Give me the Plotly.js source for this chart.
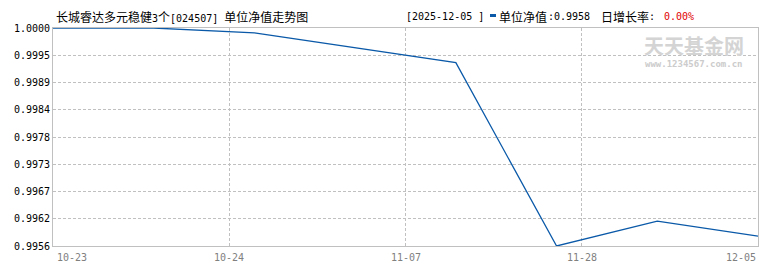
<!DOCTYPE html>
<html>
<head>
<meta charset="utf-8">
<script src="https://cdn.plot.ly/plotly-3.0.1.min.js"></script>
<style>html,body{margin:0;padding:0;background:#fff;}#chart{width:770px;height:270px;}</style>
</head>
<body>
<div id="chart"></div>
<script>
// ---- data ----
const dates = ['10-23','10-24','10-31','11-07','11-14','11-21','11-28','12-05'];
const nav = [1.0000, 1.0000, 0.9999, 0.9996, 0.9993, 0.9956, 0.9961, 0.9958];
const xTickLabels = ['10-23','10-24','11-07','11-28','12-05'];
const yTickLabels = ['0.9956','0.9962','0.9967','0.9973','0.9978','0.9984','0.9989','0.9995','1.0000'];
const yMin = 0.9956, yMax = 1.0000;
const fundName = '长城睿达多元稳健';
const fundShare = '3';
const fundUnit = '个';
const fundCode = '024507';
const titleTail = '单位净值走势图';
const lastDate = '2025-12-05';
const lastNav = '0.9958';
const dayGrowth = '0.00%';

// ---- layout helpers ----
const L = 53, R = 758, T = 28, B = 246;
const px = x => (x - L) / (R - L);
const py = y => (B - y) / (B - T);
const MONO = 'DejaVu Sans Mono, monospace';
const CJK = '"Noto Sans CJK SC", sans-serif';
const lineColor = '#0a59a8';
const sm = s => '<span style="font-family:DejaVu Sans Mono;font-size:10px">' + s + '</span>';

const xIdx = dates.map((d, i) => i);
const n = dates.length - 1;
const xTickVals = xTickLabels.map((t, i) => i * n / (xTickLabels.length - 1));
const yTickVals = yTickLabels.map((t, i) => yMin + i * (yMax - yMin) / (yTickLabels.length - 1));

const annotations = [];
xTickLabels.forEach((t, i) => {
  annotations.push({
    x: xTickVals[i], y: 0, xref: 'x', yref: 'paper',
    text: t, showarrow: false,
    xanchor: i === 0 ? 'left' : (i === xTickLabels.length - 1 ? 'right' : 'center'),
    yanchor: 'top', yshift: -4, xshift: i === 0 ? 2 : 0,
    font: {family: MONO, size: 10, color: '#808080'}
  });
});
const hdr = (x, text, color, family, size) => ({
  x: px(x), y: py(16), xref: 'paper', yref: 'paper', text: text, showarrow: false,
  xanchor: 'left', yanchor: 'middle', font: {family: family || CJK, size: size || 12, color: color || '#000'}
});
annotations.push(
  hdr(54, fundName + sm(fundShare) + fundUnit + sm('[' + fundCode + '] ') + titleTail),
  hdr(404, '[' + lastDate + ' ]', '#000', MONO, 10),
  hdr(497, '单位净值', '#000'),
  hdr(546, ':' + lastNav, '#000', MONO, 10),
  hdr(599, '日增长率', '#000'),
  hdr(647, ':', '#000', MONO, 10),
  hdr(662, dayGrowth, '#e00000', MONO, 10),
  {x: px(694), y: py(45), xref: 'paper', yref: 'paper', text: '<b>天天基金网</b>', showarrow: false,
   xanchor: 'center', yanchor: 'middle', font: {family: CJK, size: 20, color: '#d4d4d4'}},
  {x: px(694), y: py(64), xref: 'paper', yref: 'paper', text: '<b>www.1234567.com.cn</b>', showarrow: false,
   xanchor: 'center', yanchor: 'middle', font: {family: MONO, size: 9, color: '#cccccc'}}
);

const trace = {
  x: xIdx, y: nav, text: dates, type: 'scatter', mode: 'lines',
  line: {color: lineColor, width: 1.3}, hoverinfo: 'text+y'
};

const layout = {
  width: 770, height: 270,
  margin: {l: L, r: 770 - R, t: T, b: 270 - B},
  paper_bgcolor: '#fff', plot_bgcolor: '#fff',
  showlegend: false,
  xaxis: {
    range: [0, n], tickvals: xTickVals, showticklabels: false,
    showgrid: true, gridcolor: '#c0c0c0', griddash: '3px,2px', gridwidth: 1,
    zeroline: false, showline: true, mirror: true, linecolor: '#c0c0c0', linewidth: 1,
    ticks: '', fixedrange: true
  },
  yaxis: {
    range: [yMin, yMax], tickvals: yTickVals, ticktext: yTickLabels,
    showgrid: true, gridcolor: '#c0c0c0', griddash: '3px,2px', gridwidth: 1,
    zeroline: false, showline: true, mirror: true, linecolor: '#c0c0c0', linewidth: 1,
    ticks: '', ticklen: 0,
    tickfont: {family: MONO, size: 10, color: '#000'}, fixedrange: true
  },
  shapes: [
    {type: 'rect', xref: 'paper', yref: 'paper', x0: px(490), x1: px(496), y0: py(17), y1: py(14),
     fillcolor: lineColor, line: {width: 0}}
  ],
  annotations: annotations
};

Plotly.newPlot('chart', [trace], layout, {displayModeBar: false, staticPlot: true});
</script>
</body>
</html>
